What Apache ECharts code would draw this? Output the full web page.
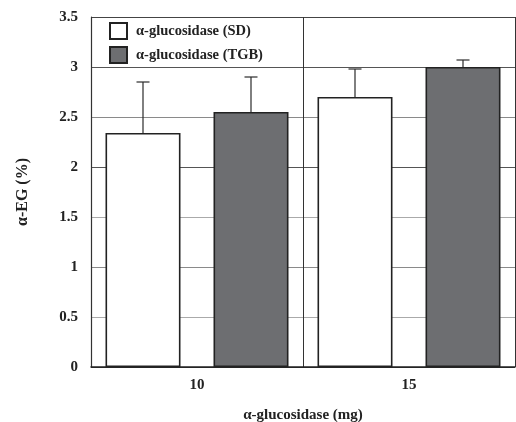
<!DOCTYPE html>
<html>
<head>
<meta charset="utf-8">
<script src="https://cdn.jsdelivr.net/npm/echarts@6/dist/echarts.min.js"></script>
<style>
  html, body { margin: 0; padding: 0; background: #fff; }
  #chart { width: 516px; height: 422px; }
</style>
</head>
<body>
<div id="chart"></div>
<script>
// data
var doses = ["10", "15"];
var sdMean = [2.34, 2.70];
var sdUpper = [2.85, 2.98];
var tgbMean = [2.55, 3.00];
var tgbUpper = [2.90, 3.07];

var FONT = "Liberation Serif";
var BAR_W = 75;
var BAR_GAP = 33;

// 误差线，只画向上的部分
function errorBar(offset) {
  return function (params, api) {
    var idx = api.value(0);
    var base = api.coord([idx, api.value(1)]);
    var top = api.coord([idx, api.value(2)]);
    var x = base[0] + offset;
    var cap = 6.5;
    var style = { stroke: "#2a2a2a", lineWidth: 1.2 };
    return {
      type: "group",
      children: [
        { type: "line", shape: { x1: x, y1: base[1], x2: x, y2: top[1] }, style: style },
        { type: "line", shape: { x1: x - cap, y1: top[1], x2: x + cap, y2: top[1] }, style: style }
      ]
    };
  };
}

var chart = echarts.init(document.getElementById("chart"));

var option = {
  animation: false,
  backgroundColor: "#fff",
  textStyle: { fontFamily: FONT },
  grid: {
    left: 91, top: 17, width: 424, height: 350,
    containLabel: false,
    outerBoundsMode: "none"
  },
  legend: {
    data: ["α-glucosidase (SD)", "α-glucosidase (TGB)"],
    orient: "vertical",
    left: 109,
    top: 22,
    padding: 0,
    icon: "rect",
    itemWidth: 17,
    itemHeight: 16,
    itemGap: 6,
    textStyle: {
      fontFamily: FONT, fontWeight: "bold", fontSize: 14.5, color: "#222",
      padding: [0, 0, 0, 4]
    }
  },
  xAxis: {
    type: "category",
    data: doses,
    name: "α-glucosidase (mg)",
    nameLocation: "middle",
    nameGap: 41,
    nameTextStyle: { fontFamily: FONT, fontWeight: "bold", fontSize: 15, color: "#222" },
    axisLine: { lineStyle: { color: "#222", width: 1.5 } },
    axisTick: { show: false },
    axisLabel: { margin: 11, fontFamily: FONT, fontWeight: "bold", fontSize: 15, color: "#222" },
    splitLine: { show: true, lineStyle: { color: "#333", width: 1 } }
  },
  yAxis: {
    type: "value",
    min: 0,
    max: 3.5,
    interval: 0.5,
    name: "α-EG (%)",
    nameLocation: "middle",
    nameGap: 60,
    nameTextStyle: { fontFamily: FONT, fontWeight: "bold", fontSize: 16, color: "#222" },
    axisLine: { show: true, lineStyle: { color: "#333", width: 1.2 } },
    axisTick: { show: false },
    axisLabel: { margin: 13, fontFamily: FONT, fontWeight: "bold", fontSize: 15, color: "#222" },
    splitLine: {
      show: true,
      lineStyle: {
        color: ["#333", "#aaa", "#8a8a8a", "#aaa", "#555", "#8a8a8a", "#555", "#444"],
        width: 1
      }
    }
  },
  series: [
    {
      name: "α-glucosidase (SD)",
      type: "bar",
      data: sdMean,
      barWidth: BAR_W,
      barGap: (BAR_GAP / BAR_W * 100) + "%",
      itemStyle: { color: "#ffffff", borderColor: "#222", borderWidth: 1.6 }
    },
    {
      name: "α-glucosidase (TGB)",
      type: "bar",
      data: tgbMean,
      barWidth: BAR_W,
      itemStyle: { color: "#6d6e71", borderColor: "#222", borderWidth: 1.6 }
    },
    {
      name: "sd-err",
      type: "custom",
      z: 5,
      renderItem: errorBar(-(BAR_W + BAR_GAP) / 2),
      data: sdMean.map(function (v, i) { return [i, v, sdUpper[i]]; })
    },
    {
      name: "tgb-err",
      type: "custom",
      z: 5,
      renderItem: errorBar((BAR_W + BAR_GAP) / 2),
      data: tgbMean.map(function (v, i) { return [i, v, tgbUpper[i]]; })
    }
  ]
};

chart.setOption(option);
window.addEventListener("resize", function () {
  chart.resize();
});
</script>
</body>
</html>
